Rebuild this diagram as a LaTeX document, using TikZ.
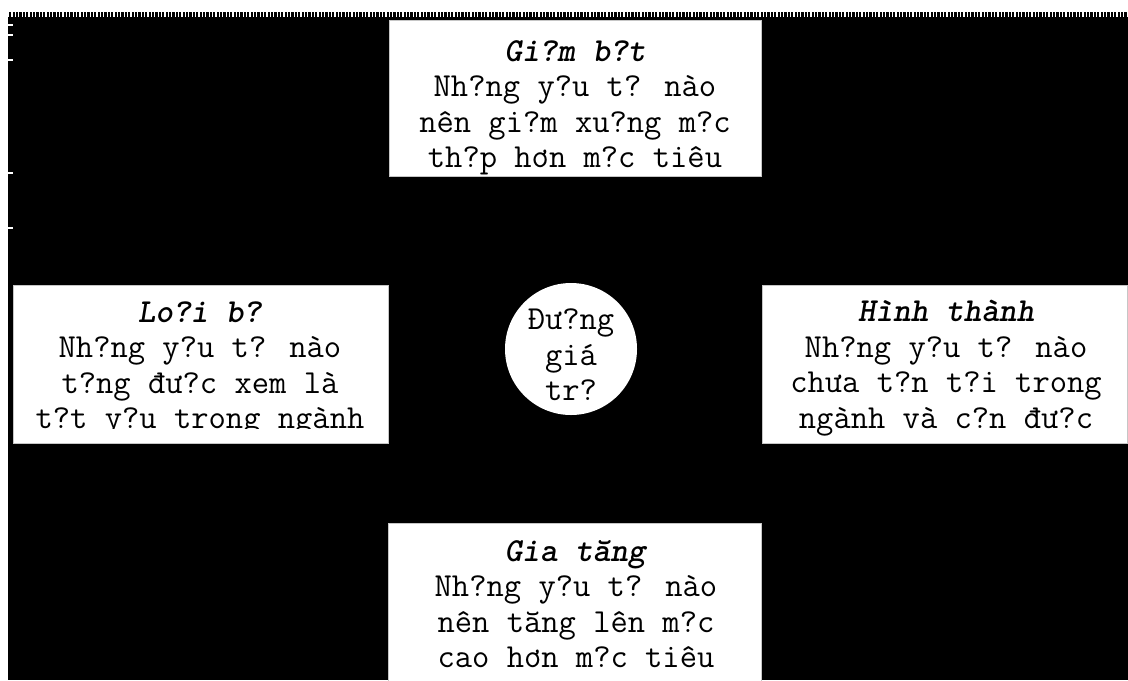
\documentclass[tikz,border=0pt]{standalone}
\usepackage{fontspec}
\usetikzlibrary{positioning}

\begin{document}
\begin{tikzpicture}[x=0.5pt, y=-0.5pt,
    panel/.style={rectangle, fill=white, draw=gray!45, thin, inner sep=0pt},
    blurb/.style={font=\ttfamily\fontsize{16.8}{17.75}\selectfont, align=center,
      inner sep=0pt, anchor=north},
  ]
  \useasboundingbox (0,0) rectangle (1128,680);
  \fill[white] (0,0) rectangle (1128,680);
  \fill[black] (8,12) rectangle (1128,680);
  % scan marks along the top and left edge
  \draw[white, line width=2.5pt, dash pattern=on 0.6pt off 1.1pt] (8,14.5) -- (1128,14.5);
  \foreach \t in {25,35,60,173,228} {
    \draw[white, line width=0.8pt] (8,\t) -- (13,\t);
  }

  % four boxes
  \node[panel, minimum width=186pt, minimum height=78pt] (giam) at (575,98) {};
  \node[panel, minimum width=187.5pt, minimum height=79pt] (loai) at (200.5,364) {};
  \node[panel, minimum width=182.5pt, minimum height=79pt] (hinh) at (944.5,364) {};
  \node[panel, minimum width=186.5pt, minimum height=90pt] (tang) at (574.5,613) {};
  % centre
  \node[circle, fill=white, minimum size=66pt, inner sep=0pt] (duong) at (571,349) {};

  \node[blurb] (giamtxt) at (575,40) {\textbf{\textit{Gi?m b?t}}\\
    Nh?ng y?u t? nào\\ nên gi?m xu?ng m?c\\ th?p hơn m?c tiêu};
  \begin{scope}
    \clip (loai.north west) rectangle (388,428);
    \node[blurb] (loaitxt) at (200,301) {\textbf{\textit{Lo?i b?}}\\
      Nh?ng y?u t? nào\\ t?ng đư?c xem là\\ t?t y?u trong ngành};
  \end{scope}
  \node[blurb] (hinhtxt) at (946,300) {\textbf{\textit{Hình thành}}\\
    Nh?ng y?u t? nào\\ chưa t?n t?i trong\\ ngành và c?n đư?c};
  \node[blurb] (tangtxt) at (576,540) {\textbf{\textit{Gia tăng}}\\
    Nh?ng y?u t? nào\\ nên tăng lên m?c\\ cao hơn m?c tiêu};
  \node[blurb, anchor=center] (duongtxt) at (571,355) {Đư?ng\\ giá\\ tr?};
\end{tikzpicture}
\end{document}
